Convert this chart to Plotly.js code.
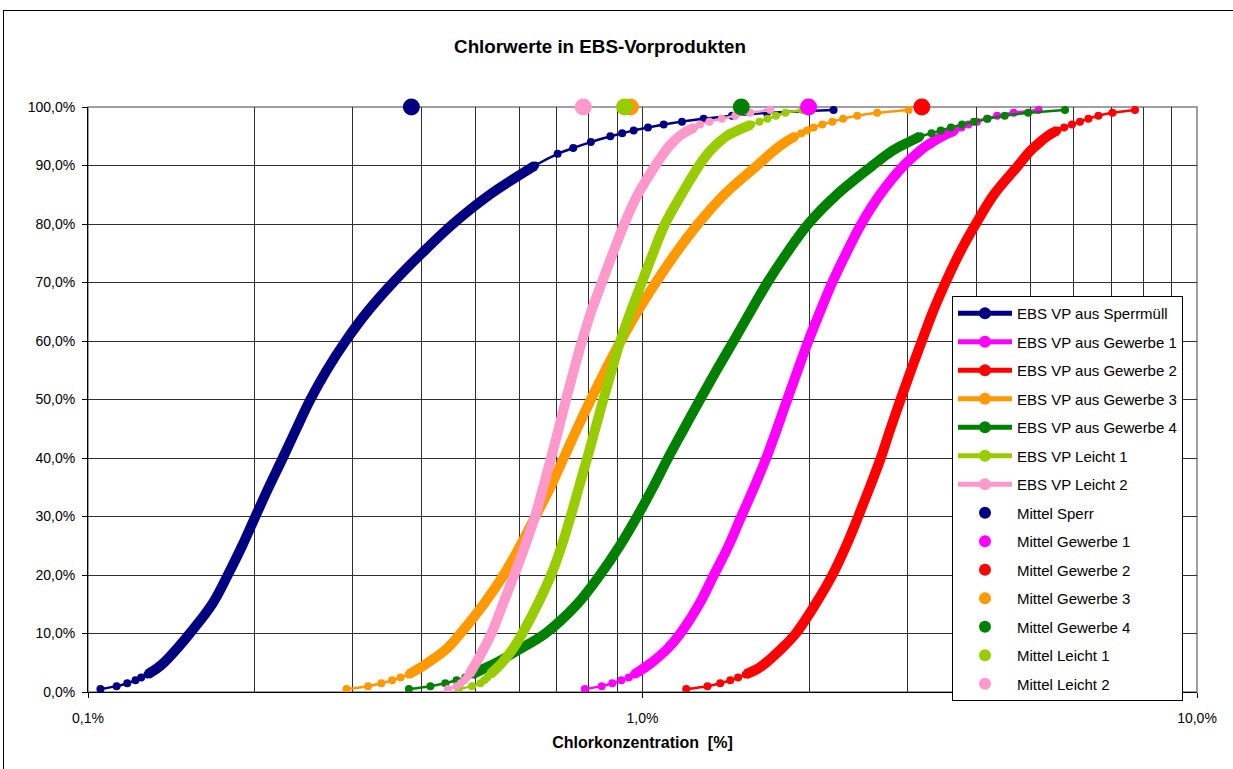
<!DOCTYPE html>
<html>
<head>
<meta charset="utf-8">
<script src="https://cdn.plot.ly/plotly-3.0.1.min.js"></script>
<style>
  html, body { margin: 0; padding: 0; background: #fff; overflow: hidden; }
  #wrap { position: relative; width: 1233px; height: 769px; overflow: hidden; }
  #chart { width: 1233px; height: 769px; }
  #frame { position: absolute; left: 3px; top: 10px; width: 1240px; height: 770px;
           border-left: 1px solid #000; border-top: 1px solid #000; pointer-events: none; }
</style>
</head>
<body>
<div id="wrap"><div id="chart"></div><div id="frame"></div></div>
<script>
// cumulative share levels [%]
const Y = [0.5,1,1.5,2,2.5,3,4,5,7.5,10,15,20,25,30,35,40,45,50,55,60,65,70,75,80,85,90,92,93,94,95,95.5,96,96.5,97,97.5,98,98.5,99,99.5];

// chlorine concentration [%] read at each level
const X_SPERR = [0.1053,0.1126,0.1177,0.1218,0.1247,0.128,0.133,0.137,0.145,0.1526,0.1674,0.1787,0.1897,0.2004,0.2118,0.2245,0.2376,0.2518,0.2695,0.2915,0.319,0.355,0.400,0.455,0.53,0.64,0.703,0.75,0.807,0.875,0.919,0.964,1.023,1.092,1.178,1.289,1.45,1.676,2.211];
const X_GEW1 = [0.787,0.844,0.882,0.916,0.944,0.965,1.003,1.038,1.112,1.17,1.265,1.345,1.43,1.507,1.59,1.672,1.748,1.824,1.905,1.991,2.09,2.199,2.33,2.481,2.68,2.96,3.12,3.21,3.33,3.47,3.56,3.66,3.76,3.87,4.01,4.18,4.36,4.67,5.18];
const X_GEW2 = [1.199,1.31,1.381,1.44,1.487,1.535,1.615,1.67,1.785,1.89,2.05,2.20,2.33,2.45,2.57,2.69,2.80,2.92,3.05,3.19,3.34,3.52,3.73,3.99,4.30,4.76,4.95,5.07,5.21,5.37,5.47,5.60,5.76,5.95,6.15,6.37,6.64,7.04,7.73];
const X_GEW3 = [0.2925,0.320,0.338,0.3535,0.366,0.3787,0.395,0.41,0.445,0.4695,0.517,0.5618,0.602,0.641,0.682,0.7208,0.762,0.807,0.857,0.914,0.979,1.057,1.148,1.259,1.403,1.61,1.70,1.75,1.81,1.886,1.934,1.98,2.035,2.11,2.199,2.301,2.44,2.65,3.02];
const X_GEW4 = [0.379,0.4145,0.441,0.462,0.479,0.493,0.518,0.545,0.605,0.668,0.762,0.838,0.91,0.978,1.045,1.112,1.188,1.27,1.36,1.46,1.565,1.68,1.82,1.99,2.24,2.60,2.77,2.88,3.02,3.17,3.32,3.45,3.6,3.77,3.96,4.19,4.5,4.96,5.78];
const X_LEICHT1 = [0.466,0.4927,0.510,0.518,0.525,0.531,0.545,0.558,0.585,0.607,0.647,0.684,0.715,0.742,0.768,0.795,0.822,0.850,0.88,0.912,0.952,0.997,1.045,1.098,1.175,1.265,1.31,1.34,1.375,1.417,1.447,1.485,1.525,1.57,1.625,1.68,1.74,1.81,1.94];
const X_LEICHT2 = [0.4455,0.462,0.470,0.477,0.482,0.487,0.494,0.501,0.518,0.534,0.560,0.587,0.614,0.640,0.662,0.684,0.706,0.728,0.752,0.778,0.808,0.845,0.884,0.927,0.98,1.055,1.09,1.11,1.135,1.165,1.185,1.21,1.24,1.27,1.32,1.39,1.47,1.564,1.70];

const SERIES_NAMES = ['EBS VP aus Sperrmüll','EBS VP aus Gewerbe 1','EBS VP aus Gewerbe 2','EBS VP aus Gewerbe 3','EBS VP aus Gewerbe 4','EBS VP Leicht 1','EBS VP Leicht 2'];
const SERIES_X = [X_SPERR, X_GEW1, X_GEW2, X_GEW3, X_GEW4, X_LEICHT1, X_LEICHT2];

// mean values, drawn at 100 %
const MITTEL_NAMES = ['Mittel Sperr','Mittel Gewerbe 1','Mittel Gewerbe 2','Mittel Gewerbe 3','Mittel Gewerbe 4','Mittel Leicht 1','Mittel Leicht 2'];
const MITTEL_X = [0.383, 1.993, 3.19, 0.951, 1.507, 0.928, 0.782];
const MITTEL_Y = [100, 100, 100, 100, 100, 100, 100];

// axis ticks
const X_TICKS = [0.1, 1, 10];
const X_TICKTEXT = ['0,1%', '1,0%', '10,0%'];
const Y_TICKS = [0, 10, 20, 30, 40, 50, 60, 70, 80, 90, 100];
const Y_TICKTEXT = ['0,0%','10,0%','20,0%','30,0%','40,0%','50,0%','60,0%','70,0%','80,0%','90,0%','100,0%'];
const X_MINOR = [0.2,0.3,0.4,0.5,0.6,0.7,0.8,0.9,2,3,4,5,6,7,8,9];

// styles
const COLORS = ['#000080','#FF00FF','#FF0000','#FF9900','#008000','#99CC00','#FF99CC'];
const BODY_LOW = 3;
const BODY_TOP = [90, 96, 96, 95, 95, 97, 96.5];

const traces = [];
SERIES_X.forEach((xs, i) => {
  const bx = [], by = [];
  Y.forEach((y, j) => { if (y >= BODY_LOW && y <= BODY_TOP[i]) { bx.push(xs[j]); by.push(y); } });
  traces.push({x: bx, y: by, type: 'scatter', mode: 'lines',
               line: {color: COLORS[i], width: 10, shape: 'spline', smoothing: 1},
               showlegend: false, hoverinfo: 'skip', legendgroup: 'g' + i, cliponaxis: false});
  traces.push({x: xs, y: Y, type: 'scatter', mode: 'lines+markers', name: SERIES_NAMES[i],
               line: {color: COLORS[i], width: 2.5, shape: 'spline', smoothing: 0.6},
               marker: {color: COLORS[i], size: 8},
               legendgroup: 'g' + i, cliponaxis: false});
});
MITTEL_NAMES.forEach((n, i) => {
  traces.push({x: [MITTEL_X[i]], y: [MITTEL_Y[i]], type: 'scatter', mode: 'markers', name: n,
               marker: {color: COLORS[i], size: 17}, legendgroup: 'm' + i, cliponaxis: false});
});

const GRID = '#2e2e2e';

const layout = {
  width: 1233, height: 769,
  margin: {l: 88, r: 36, t: 107, b: 77, autoexpand: false},
  paper_bgcolor: '#fff', plot_bgcolor: '#fff',
  font: {family: 'Liberation Sans, Arial, sans-serif', size: 14, color: '#000'},
  title: {text: '<b>Chlorwerte in EBS-Vorprodukten</b>', font: {size: 18.8, color: '#000'},
          xref: 'container', x: 600 / 1233, xanchor: 'center',
          yref: 'container', y: 1 - 46 / 769, yanchor: 'middle'},
  xaxis: {type: 'log', range: [-1, 1], tickvals: X_TICKS, ticktext: X_TICKTEXT,
          ticks: 'outside', ticklen: 5, tickcolor: '#000', ticklabelstandoff: 8,
          showline: true, linecolor: '#000', linewidth: 1,
          showgrid: true, gridcolor: GRID, gridwidth: 1, zeroline: false,
          minor: {tickvals: X_MINOR, showgrid: true, gridcolor: GRID, gridwidth: 1, ticks: ''},
          title: {text: '<b>Chlorkonzentration\u00a0 [%]</b>', font: {size: 16}, standoff: 12},
          automargin: false},
  yaxis: {range: [0, 100], tickvals: Y_TICKS, ticktext: Y_TICKTEXT,
          ticks: 'outside', ticklen: 5, tickcolor: '#000', ticklabelstandoff: 4,
          showline: true, linecolor: '#000', linewidth: 1,
          showgrid: true, gridcolor: GRID, gridwidth: 1, zeroline: false, automargin: false},
  legend: {x: (952 - 88) / 1109, xanchor: 'left', y: (692 - 296) / 585, yanchor: 'top',
           bgcolor: '#fff', bordercolor: '#000', borderwidth: 1, itemwidth: 54,
           font: {size: 15}, traceorder: 'grouped', tracegroupgap: 6, itemsizing: 'constant'},
  shapes: [{type: 'rect', xref: 'paper', yref: 'paper', x0: 0, x1: 1, y0: 0, y1: 1,
            line: {color: '#808080', width: 1.5}, layer: 'below'}],
  showlegend: true
};

Plotly.newPlot('chart', traces, layout, {displayModeBar: false, staticPlot: true});
</script>
</body>
</html>
